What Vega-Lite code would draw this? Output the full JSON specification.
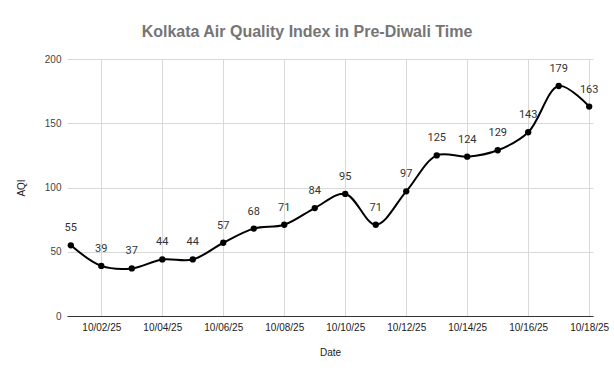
{
  "$schema": "https://vega.github.io/schema/vega-lite/v6.json",
  "width": 526,
  "height": 257,
  "autosize": {"type": "none"},
  "padding": {"left": 67, "top": 59, "right": 21, "bottom": 64},
  "background": "white",
  "title": {
    "text": "Kolkata Air Quality Index in Pre-Diwali Time",
    "font": "Liberation Sans",
    "fontSize": 16,
    "fontWeight": "bold",
    "color": "#757575",
    "anchor": "middle",
    "dx": -23,
    "offset": 14
  },
  "data": {
    "values": [
      {"Date": "2025-10-01", "AQI": 55},
      {"Date": "2025-10-02", "AQI": 39},
      {"Date": "2025-10-03", "AQI": 37},
      {"Date": "2025-10-04", "AQI": 44},
      {"Date": "2025-10-05", "AQI": 44},
      {"Date": "2025-10-06", "AQI": 57},
      {"Date": "2025-10-07", "AQI": 68},
      {"Date": "2025-10-08", "AQI": 71},
      {"Date": "2025-10-09", "AQI": 84},
      {"Date": "2025-10-10", "AQI": 95},
      {"Date": "2025-10-11", "AQI": 71},
      {"Date": "2025-10-12", "AQI": 97},
      {"Date": "2025-10-13", "AQI": 125},
      {"Date": "2025-10-14", "AQI": 124},
      {"Date": "2025-10-15", "AQI": 129},
      {"Date": "2025-10-16", "AQI": 143},
      {"Date": "2025-10-17", "AQI": 179},
      {"Date": "2025-10-18", "AQI": 163}
    ]
  },
  "encoding": {
    "x": {
      "field": "Date",
      "type": "temporal",
      "scale": {"type": "utc", "domain": ["2025-09-30T21:00:00Z", "2025-10-18T03:00:00Z"]},
      "axis": {
        "title": "Date",
        "format": "%m/%d/%y",
        "values": ["2025-10-02", "2025-10-04", "2025-10-06", "2025-10-08", "2025-10-10", "2025-10-12", "2025-10-14", "2025-10-16", "2025-10-18"],
        "ticks": false,
        "labelPadding": 6,
        "labelFont": "Liberation Sans",
        "labelFontSize": 10,
        "labelColor": "#222222",
        "labelAngle": 0,
        "labelOverlap": false,
        "titleFont": "Liberation Sans",
        "titleFontSize": 10,
        "titleFontWeight": "normal",
        "titleColor": "#222222",
        "titlePadding": 15,
        "domainColor": "#333333",
        "gridColor": "#d9d9d9"
      }
    },
    "y": {
      "field": "AQI",
      "type": "quantitative",
      "scale": {"domain": [0, 200]},
      "axis": {
        "title": "AQI",
        "values": [0, 50, 100, 150, 200],
        "ticks": false,
        "domain": false,
        "labelPadding": 6,
        "labelFont": "Liberation Sans",
        "labelFontSize": 10,
        "labelColor": "#444444",
        "titleFont": "Liberation Sans",
        "titleFontSize": 10,
        "titleFontWeight": "normal",
        "titleColor": "#222222",
        "titlePadding": 18,
        "gridColor": "#d9d9d9"
      }
    }
  },
  "layer": [
    {"mark": {"type": "line", "color": "black", "strokeWidth": 2, "interpolate": "catmull-rom"}},
    {"mark": {"type": "point", "filled": true, "color": "black", "size": 40, "opacity": 1}},
    {
      "mark": {"type": "text", "dy": -17, "font": "Roboto", "fontSize": 11, "color": "#333333"},
      "encoding": {"text": {"field": "AQI", "type": "quantitative"}}
    }
  ],
  "config": {"view": {"stroke": null}}
}
